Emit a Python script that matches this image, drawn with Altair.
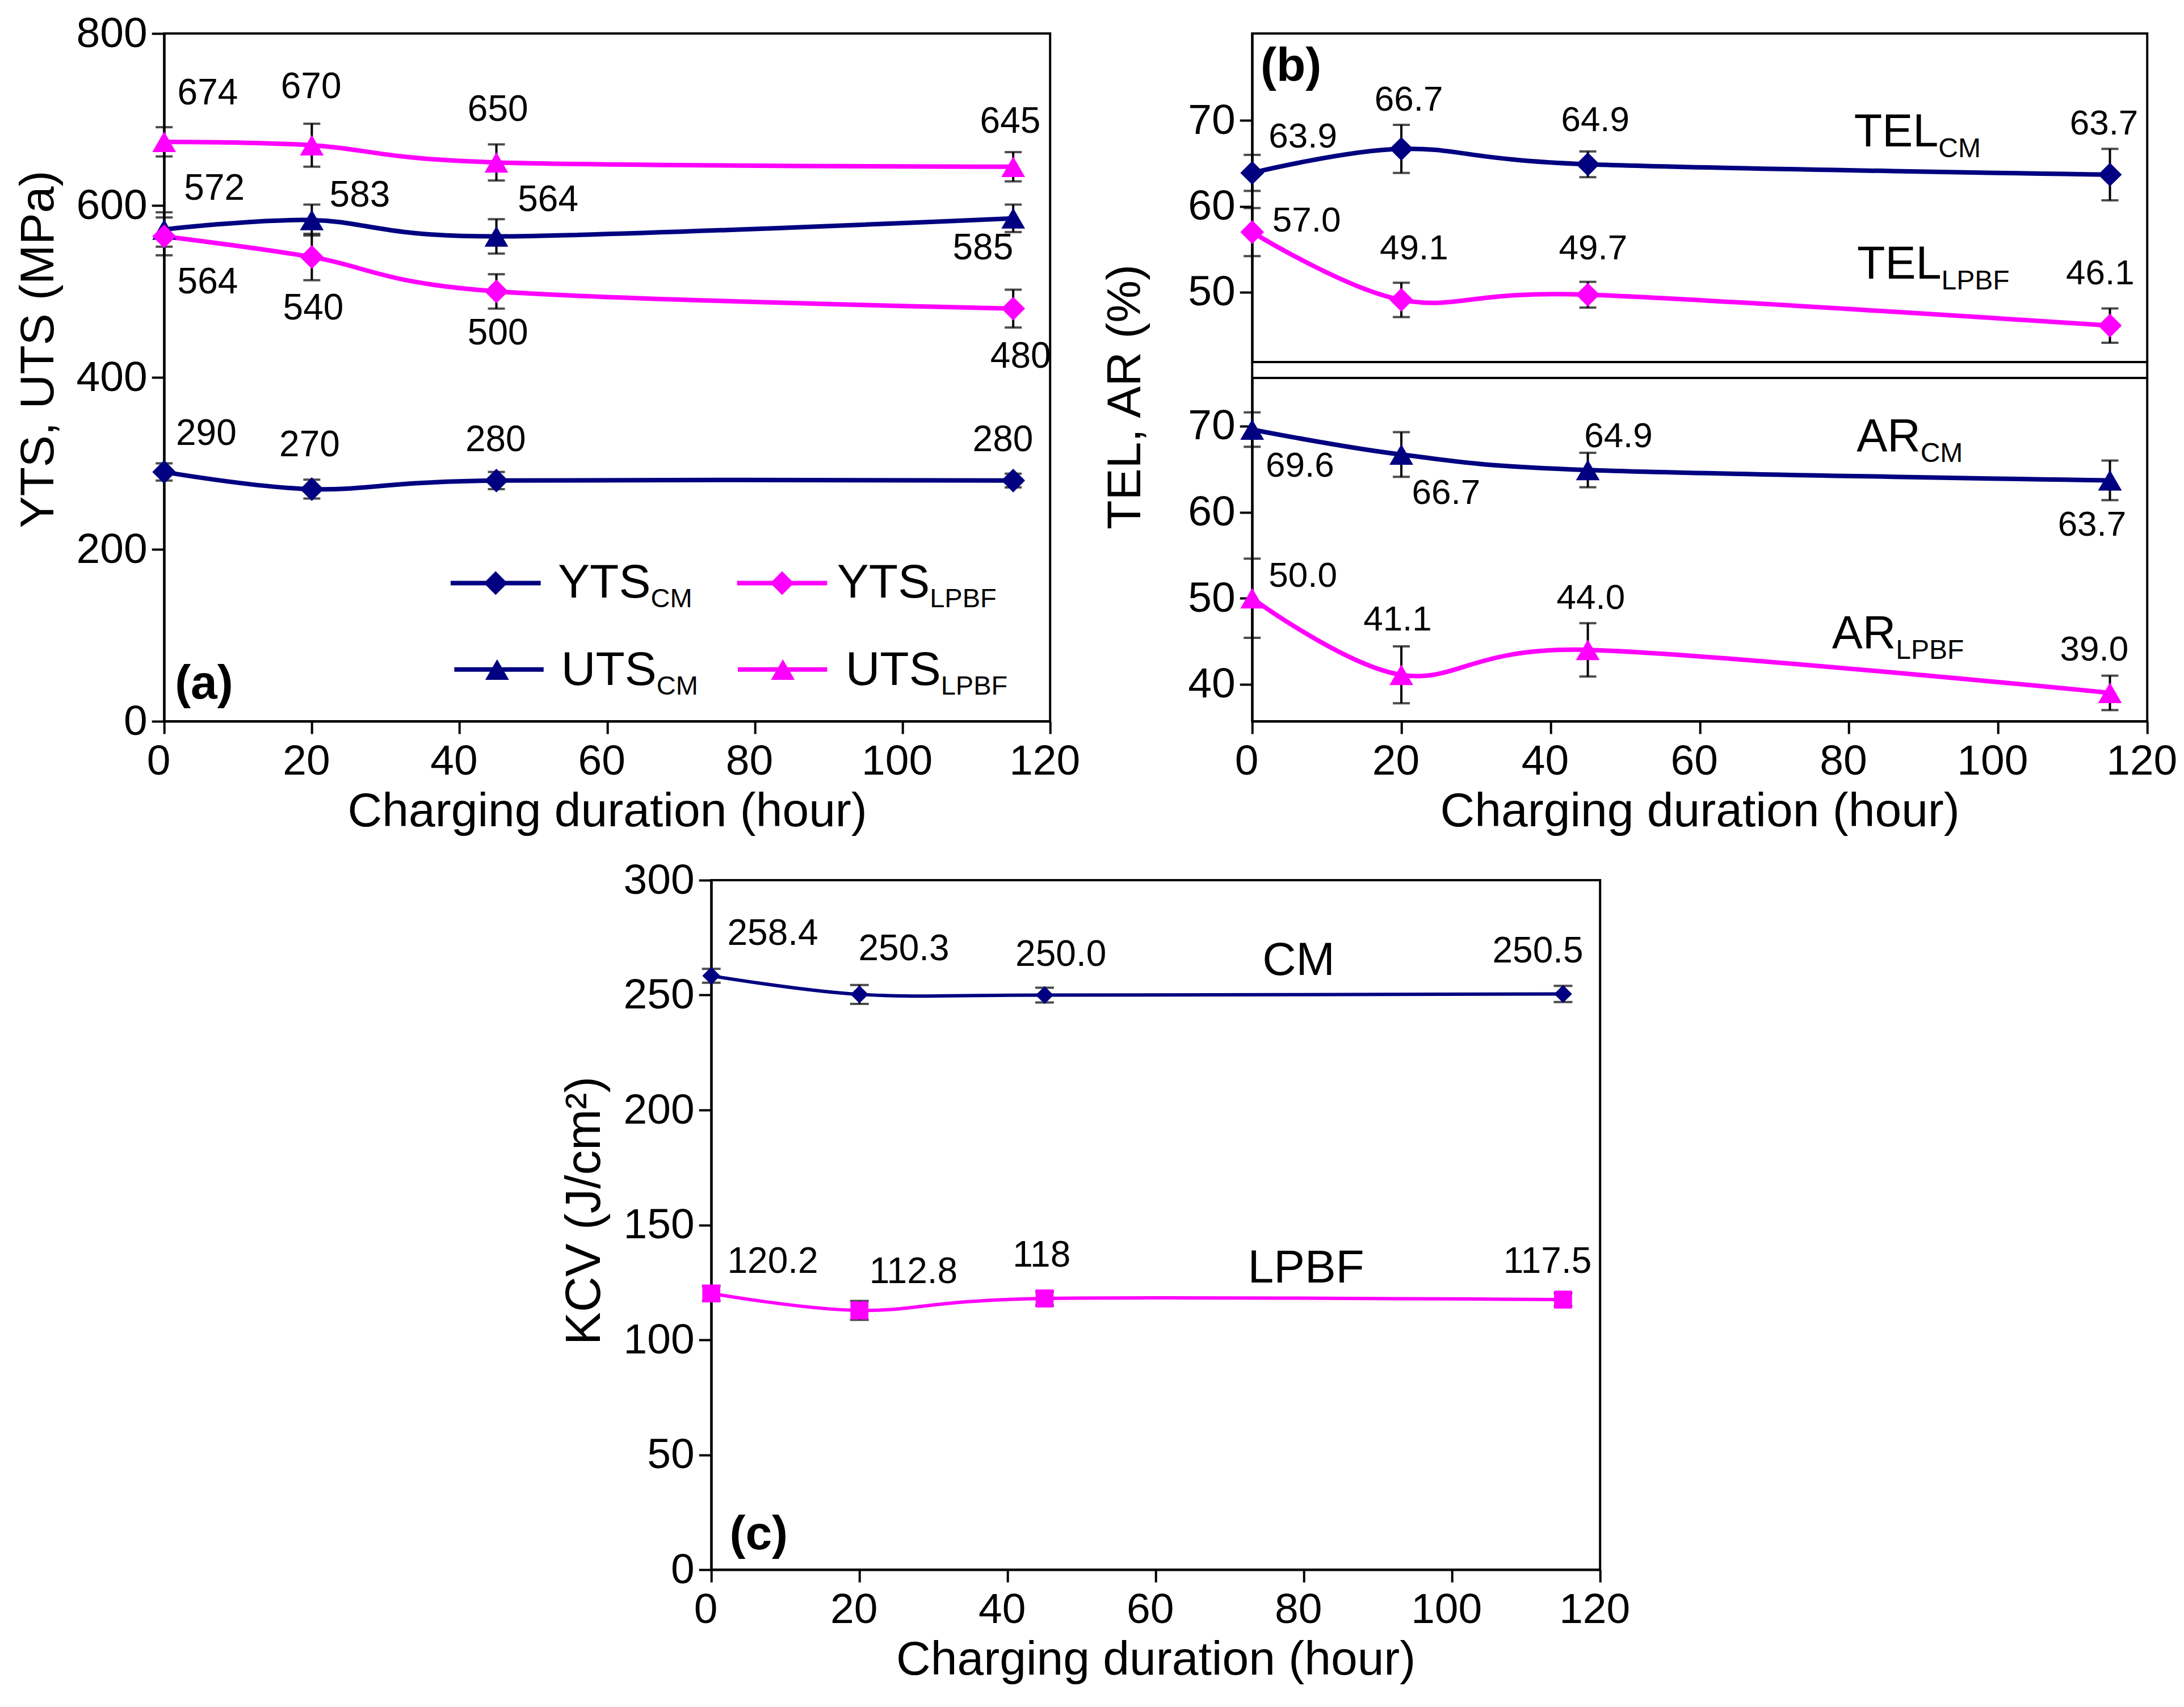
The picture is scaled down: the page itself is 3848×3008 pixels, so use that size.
import altair as alt
import pandas as pd

FONT = "Liberation Sans"
NAVY = "#000080"
MAGENTA = "#FF00FF"

hours = [0, 20, 45, 115]
x_ticks = [0, 20, 40, 60, 80, 100, 120]

# ---------------- Panel (a) data ----------------
a_names = ["UTS_LPBF", "UTS_CM", "YTS_LPBF", "YTS_CM"]
uts_lpbf = [674, 670, 650, 645]
uts_lpbf_err = [17, 25, 21, 17]
uts_cm = [572, 583, 564, 585]
uts_cm_err = [20, 18, 20, 16]
yts_lpbf = [564, 540, 500, 480]
yts_lpbf_err = [22, 27, 20, 22]
yts_cm = [290, 270, 280, 280]
yts_cm_err = [10, 11, 10, 8]

a_lab_text = ["674", "670", "650", "645", "572", "583", "564", "585",
              "564", "540", "500", "480", "290", "270", "280", "280"]
a_lab_x = [5.9, 19.9, 45.2, 114.6, 6.8, 26.5, 52.0, 110.9,
           5.9, 20.2, 45.2, 116.0, 5.7, 19.7, 44.9, 113.6]
a_lab_y = [730, 737, 711, 697, 619, 611, 606, 550,
           510, 480, 451, 424, 334, 321, 327, 327]

leg_series = ["YTS_CM", "YTS_LPBF", "UTS_CM", "UTS_LPBF"]
leg_main = ["YTS", "YTS", "UTS", "UTS"]
leg_sub = ["CM", "LPBF", "CM", "LPBF"]
leg_sym_x = [44.9, 83.7, 45.1, 83.8]
leg_sym_y = [160.7, 160.7, 60.2, 60.2]
leg_line_x1 = [38.8, 77.6, 39.3, 77.7]
leg_line_x2 = [51.0, 89.8, 51.4, 89.8]
leg_text_x = [65.9, 103.7, 66.7, 105.2]
leg_text_y = [144, 144, 42.3, 42.3]

# ---------------- Panel (b) data ----------------
b_names = ["TEL_CM", "TEL_LPBF", "AR_CM", "AR_LPBF"]
b1_names = ["TEL_CM", "TEL_LPBF"]
tel_cm = [63.9, 66.7, 64.9, 63.7]
tel_cm_err = [2.1, 2.8, 1.5, 3.0]
tel_lpbf = [57.0, 49.1, 49.7, 46.1]
tel_lpbf_err = [2.8, 2.0, 1.5, 2.0]
b2_names = ["AR_CM", "AR_LPBF"]
ar_cm = [69.6, 66.7, 64.9, 63.7]
ar_cm_err = [2.0, 2.6, 2.0, 2.3]
ar_lpbf = [50.0, 41.1, 44.0, 39.0]
ar_lpbf_err = [4.6, 3.3, 3.1, 2.0]

b1_lab_text = ["63.9", "66.7", "64.9", "63.7", "57.0", "49.1", "49.7", "46.1"]
b1_lab_x = [6.8, 21.0, 46.0, 114.2, 7.3, 21.7, 45.7, 113.7]
b1_lab_y = [68.1, 72.4, 70.0, 69.6, 58.3, 55.1, 55.1, 52.2]
b2_lab_text = ["69.6", "66.7", "64.9", "63.7", "50.0", "41.1", "44.0", "39.0"]
b2_lab_x = [6.4, 26.0, 49.1, 112.6, 6.8, 19.5, 45.4, 112.9]
b2_lab_y = [65.4, 62.2, 68.8, 58.5, 52.6, 47.5, 50.0, 44.0]

b1_name_main = ["TEL", "TEL"]
b1_name_sub = ["CM", "LPBF"]
b1_name_x = [92.0, 92.4]
b1_name_y = [67.0, 51.6]
b2_name_main = ["AR", "AR"]
b2_name_sub = ["CM", "LPBF"]
b2_name_x = [89.6, 86.3]
b2_name_y = [67.1, 44.2]

# ---------------- Panel (c) data ----------------
c_names = ["CM", "LPBF"]
kcv_cm = [258.4, 250.3, 250.0, 250.5]
kcv_cm_err = [3.0, 4.1, 3.2, 3.5]
kcv_lpbf = [120.2, 112.8, 118.0, 117.5]
kcv_lpbf_err = [3.2, 4.1, 3.0, 2.8]

c_lab_text = ["258.4", "250.3", "250.0", "250.5", "120.2", "112.8", "118", "117.5"]
c_lab_x = [8.3, 26.0, 47.2, 111.6, 8.3, 27.3, 44.6, 112.9]
c_lab_y = [276.5, 269.8, 267.3, 269.0, 133.9, 129.4, 136.5, 133.9]
c_name_text = ["CM", "LPBF"]
c_name_x = [79.3, 80.3]
c_name_y = [264.9, 131.2]

panel_tag = ["(a)", "(b)", "(c)"]
panel_tag_x = [5.4, 5.2, 6.4]
panel_tag_y = [43, 76.25, 15.1]

# ---------- sizes (pixels) ----------
A_W, A_H = 1561, 1212
B_W, B_H = 1577, 1212
B1_BOTTOM, B2_TOP = 579, 607
C_W, C_H = 1566, 1215


def long_df(names, values, errs):
    rows = []
    for n, vs, es in zip(names, values, errs):
        for h, v, e in zip(hours, vs, es):
            rows.append({"series": n, "hour": h, "value": v, "err": e})
    return pd.DataFrame(rows)


def lab_df(t, x, y):
    return pd.DataFrame({"text": t, "hour": x, "value": y})


def x_axis():
    return alt.Axis(values=x_ticks, title="Charging duration (hour)", labelFlush=False,
                    labelOverlap=False, labelOffset=-10)


def enc_factories(yax, ydom, yrange=None):
    xs = alt.Scale(domain=[0, 120], nice=False, zero=False)
    if yrange is None:
        ys = alt.Scale(domain=ydom, nice=False, zero=False)
    else:
        ys = alt.Scale(domain=ydom, range=yrange, nice=False, zero=False)
    xax = x_axis()

    def X(f):
        return alt.X(f, type="quantitative", scale=xs, axis=xax)

    def Y(f):
        return alt.Y(f, type="quantitative", scale=ys, axis=yax)
    return X, Y


def color_shape(names, colors, shapes):
    col = alt.Color("series:N", scale=alt.Scale(domain=names, range=colors), legend=None)
    shp = alt.Shape("series:N", scale=alt.Scale(domain=names, range=shapes), legend=None)
    return col, shp


def series_layers(df, X, Y, col, shp, msize, lw, labels, label_fs, cap=30):
    base = alt.Chart(df).transform_calculate(lo="datum.value - datum.err",
                                             hi="datum.value + datum.err")
    err = base.mark_rule(color="black", strokeWidth=4).encode(
        x=X("hour"), y=Y("lo"), y2=alt.Y2("hi:Q"))
    cap_lo = base.mark_tick(color="black", orient="horizontal", size=cap, thickness=4).encode(
        x=X("hour"), y=Y("lo"))
    cap_hi = base.mark_tick(color="black", orient="horizontal", size=cap, thickness=4).encode(
        x=X("hour"), y=Y("hi"))
    line = alt.Chart(df).mark_line(interpolate="cardinal", strokeWidth=lw).encode(
        x=X("hour"), y=Y("value"), color=col, detail="series:N")
    pts = alt.Chart(df).mark_point(filled=True, opacity=1, size=msize, strokeWidth=0).encode(
        x=X("hour"), y=Y("value"), color=col, shape=shp)
    lab = alt.Chart(labels).mark_text(font=FONT, fontSize=label_fs, color="black",
                                      baseline="middle", align="center").encode(
        x=X("hour"), y=Y("value"), text="text:N")
    return [err, cap_lo, cap_hi, line, pts, lab]


def sub_text(X, Y, mains, subs, bx, by, fs_main, fs_sub, dy_sub):
    d = pd.DataFrame({"hour": bx, "value": by, "main": mains, "sub": subs})
    m = alt.Chart(d).mark_text(font=FONT, fontSize=fs_main, align="right",
                               baseline="alphabetic", color="black").encode(
        x=X("hour"), y=Y("value"), text="main:N")
    s = alt.Chart(d).mark_text(font=FONT, fontSize=fs_sub, align="left",
                               baseline="alphabetic", dy=dy_sub, color="black").encode(
        x=X("hour"), y=Y("value"), text="sub:N")
    return [m, s]


def tag(X, Y, i):
    d = pd.DataFrame({"hour": [panel_tag_x[i]], "value": [panel_tag_y[i]],
                      "t": [panel_tag[i]]})
    return alt.Chart(d).mark_text(font=FONT, fontSize=84, fontWeight="bold",
                                  color="black", baseline="middle").encode(
        x=X("hour"), y=Y("value"), text="t:N")


# ---------- Panel (a) ----------
Xa, Ya = enc_factories(
    alt.Axis(values=[0, 200, 400, 600, 800], title="YTS, UTS (MPa)", titlePadding=23,
             titleY=556),
    [0, 800])
col_a, shp_a = color_shape(a_names, [MAGENTA, NAVY, MAGENTA, NAVY],
                           ["triangle-up", "triangle-up", "diamond", "diamond"])
df_a = long_df(a_names, [uts_lpbf, uts_cm, yts_lpbf, yts_cm],
               [uts_lpbf_err, uts_cm_err, yts_lpbf_err, yts_cm_err])
a_layers = series_layers(df_a, Xa, Ya, col_a, shp_a, 1750, 8,
                         lab_df(a_lab_text, a_lab_x, a_lab_y), 64)
leg_lines = pd.DataFrame({"series": leg_series, "hour": leg_line_x1, "x2": leg_line_x2,
                          "value": leg_sym_y})
a_layers.append(alt.Chart(leg_lines).mark_rule(strokeWidth=8).encode(
    x=Xa("hour"), x2=alt.X2("x2:Q"), y=Ya("value"), color=col_a))
leg_syms = pd.DataFrame({"series": leg_series, "hour": leg_sym_x, "value": leg_sym_y})
a_layers.append(alt.Chart(leg_syms).mark_point(filled=True, opacity=1, size=1750,
                                               strokeWidth=0).encode(
    x=Xa("hour"), y=Ya("value"), color=col_a, shape=shp_a))
a_layers += sub_text(Xa, Ya, leg_main, leg_sub, leg_text_x, leg_text_y, 84, 47, 17)
a_layers.append(tag(Xa, Ya, 0))
panel_a = alt.layer(*a_layers).properties(width=A_W, height=A_H)

# ---------- Panel (b): two stacked y-scales in one view ----------
col_b, shp_b = color_shape(b_names, [NAVY, MAGENTA, NAVY, MAGENTA],
                           ["diamond", "diamond", "triangle-up", "triangle-up"])
Xb1, Yb1 = enc_factories(
    alt.Axis(values=[50, 60, 70], title="TEL, AR (%)", titlePadding=66, titleY=640,
             orient="left"),
    [41.85, 80.15], [B1_BOTTOM, 0])
Xb2, Yb2 = enc_factories(
    alt.Axis(values=[40, 50, 60, 70], title=None, orient="left"),
    [35.7, 75.6], [B_H, B2_TOP])

df_b1 = long_df(b1_names, [tel_cm, tel_lpbf], [tel_cm_err, tel_lpbf_err])
df_b2 = long_df(b2_names, [ar_cm, ar_lpbf], [ar_cm_err, ar_lpbf_err])

b1_layers = series_layers(df_b1, Xb1, Yb1, col_b, shp_b, 1750, 8,
                          lab_df(b1_lab_text, b1_lab_x, b1_lab_y), 62)
b1_layers += sub_text(Xb1, Yb1, b1_name_main, b1_name_sub, b1_name_x, b1_name_y, 81, 48, 19)
b1_layers.append(tag(Xb1, Yb1, 1))
sep = pd.DataFrame({"k": [0]})
b1_layers.append(alt.Chart(sep).mark_rule(color="black", strokeWidth=4).encode(
    x=alt.value(0), x2=alt.value(B_W), y=alt.value(B1_BOTTOM)))
b1_layers.append(alt.Chart(sep).mark_rule(color="black", strokeWidth=4).encode(
    x=alt.value(0), x2=alt.value(B_W), y=alt.value(B2_TOP)))

b2_layers = series_layers(df_b2, Xb2, Yb2, col_b, shp_b, 1750, 8,
                          lab_df(b2_lab_text, b2_lab_x, b2_lab_y), 62)
b2_layers += sub_text(Xb2, Yb2, b2_name_main, b2_name_sub, b2_name_x, b2_name_y, 81, 48, 19)

panel_b = alt.layer(alt.layer(*b1_layers), alt.layer(*b2_layers)).resolve_scale(
    y="independent").properties(width=B_W, height=B_H)

# ---------- Panel (c) ----------
Xc, Yc = enc_factories(
    alt.Axis(values=[0, 50, 100, 150, 200, 250, 300], title="KCV (J/cm²)", titlePadding=24,
             titleY=582, titleFontSize=87),
    [0, 300])
col_c, shp_c = color_shape(c_names, [NAVY, MAGENTA], ["diamond", "square"])
df_c = long_df(c_names, [kcv_cm, kcv_lpbf], [kcv_cm_err, kcv_lpbf_err])
c_layers = series_layers(df_c, Xc, Yc, col_c, shp_c, 1000, 6,
                         lab_df(c_lab_text, c_lab_x, c_lab_y), 64, cap=33)
c_names_df = pd.DataFrame({"hour": c_name_x, "value": c_name_y, "t": c_name_text})
c_layers.append(alt.Chart(c_names_df).mark_text(font=FONT, fontSize=82, color="black",
                                                baseline="middle").encode(
    x=Xc("hour"), y=Yc("value"), text="t:N"))
c_layers.append(tag(Xc, Yc, 2))
panel_c = alt.layer(*c_layers).properties(width=C_W, height=C_H)

indep = dict(x="independent", y="independent", color="independent", shape="independent")

top_row = alt.hconcat(panel_a, panel_b, spacing=356, bounds="flush").resolve_scale(**indep)
chart = alt.vconcat(top_row, panel_c, spacing=38, center=True).resolve_scale(**indep)

chart = chart.properties(
    padding={"left": 16, "top": 12, "right": 0, "bottom": 5},
    background="white",
).configure_view(
    stroke="black", strokeWidth=4
).configure_axis(
    domainColor="black", domainWidth=4, tickColor="black", tickWidth=4, tickSize=22,
    labelColor="black", titleColor="black", labelFont=FONT, titleFont=FONT,
    labelFontSize=75, titleFontSize=84, titleFontWeight="normal", grid=False
).configure_axisX(
    labelPadding=12, titlePadding=10
).configure_axisY(
    labelPadding=8
)

chart.save("out.html", embed_options={"renderer": "svg", "actions": False})
